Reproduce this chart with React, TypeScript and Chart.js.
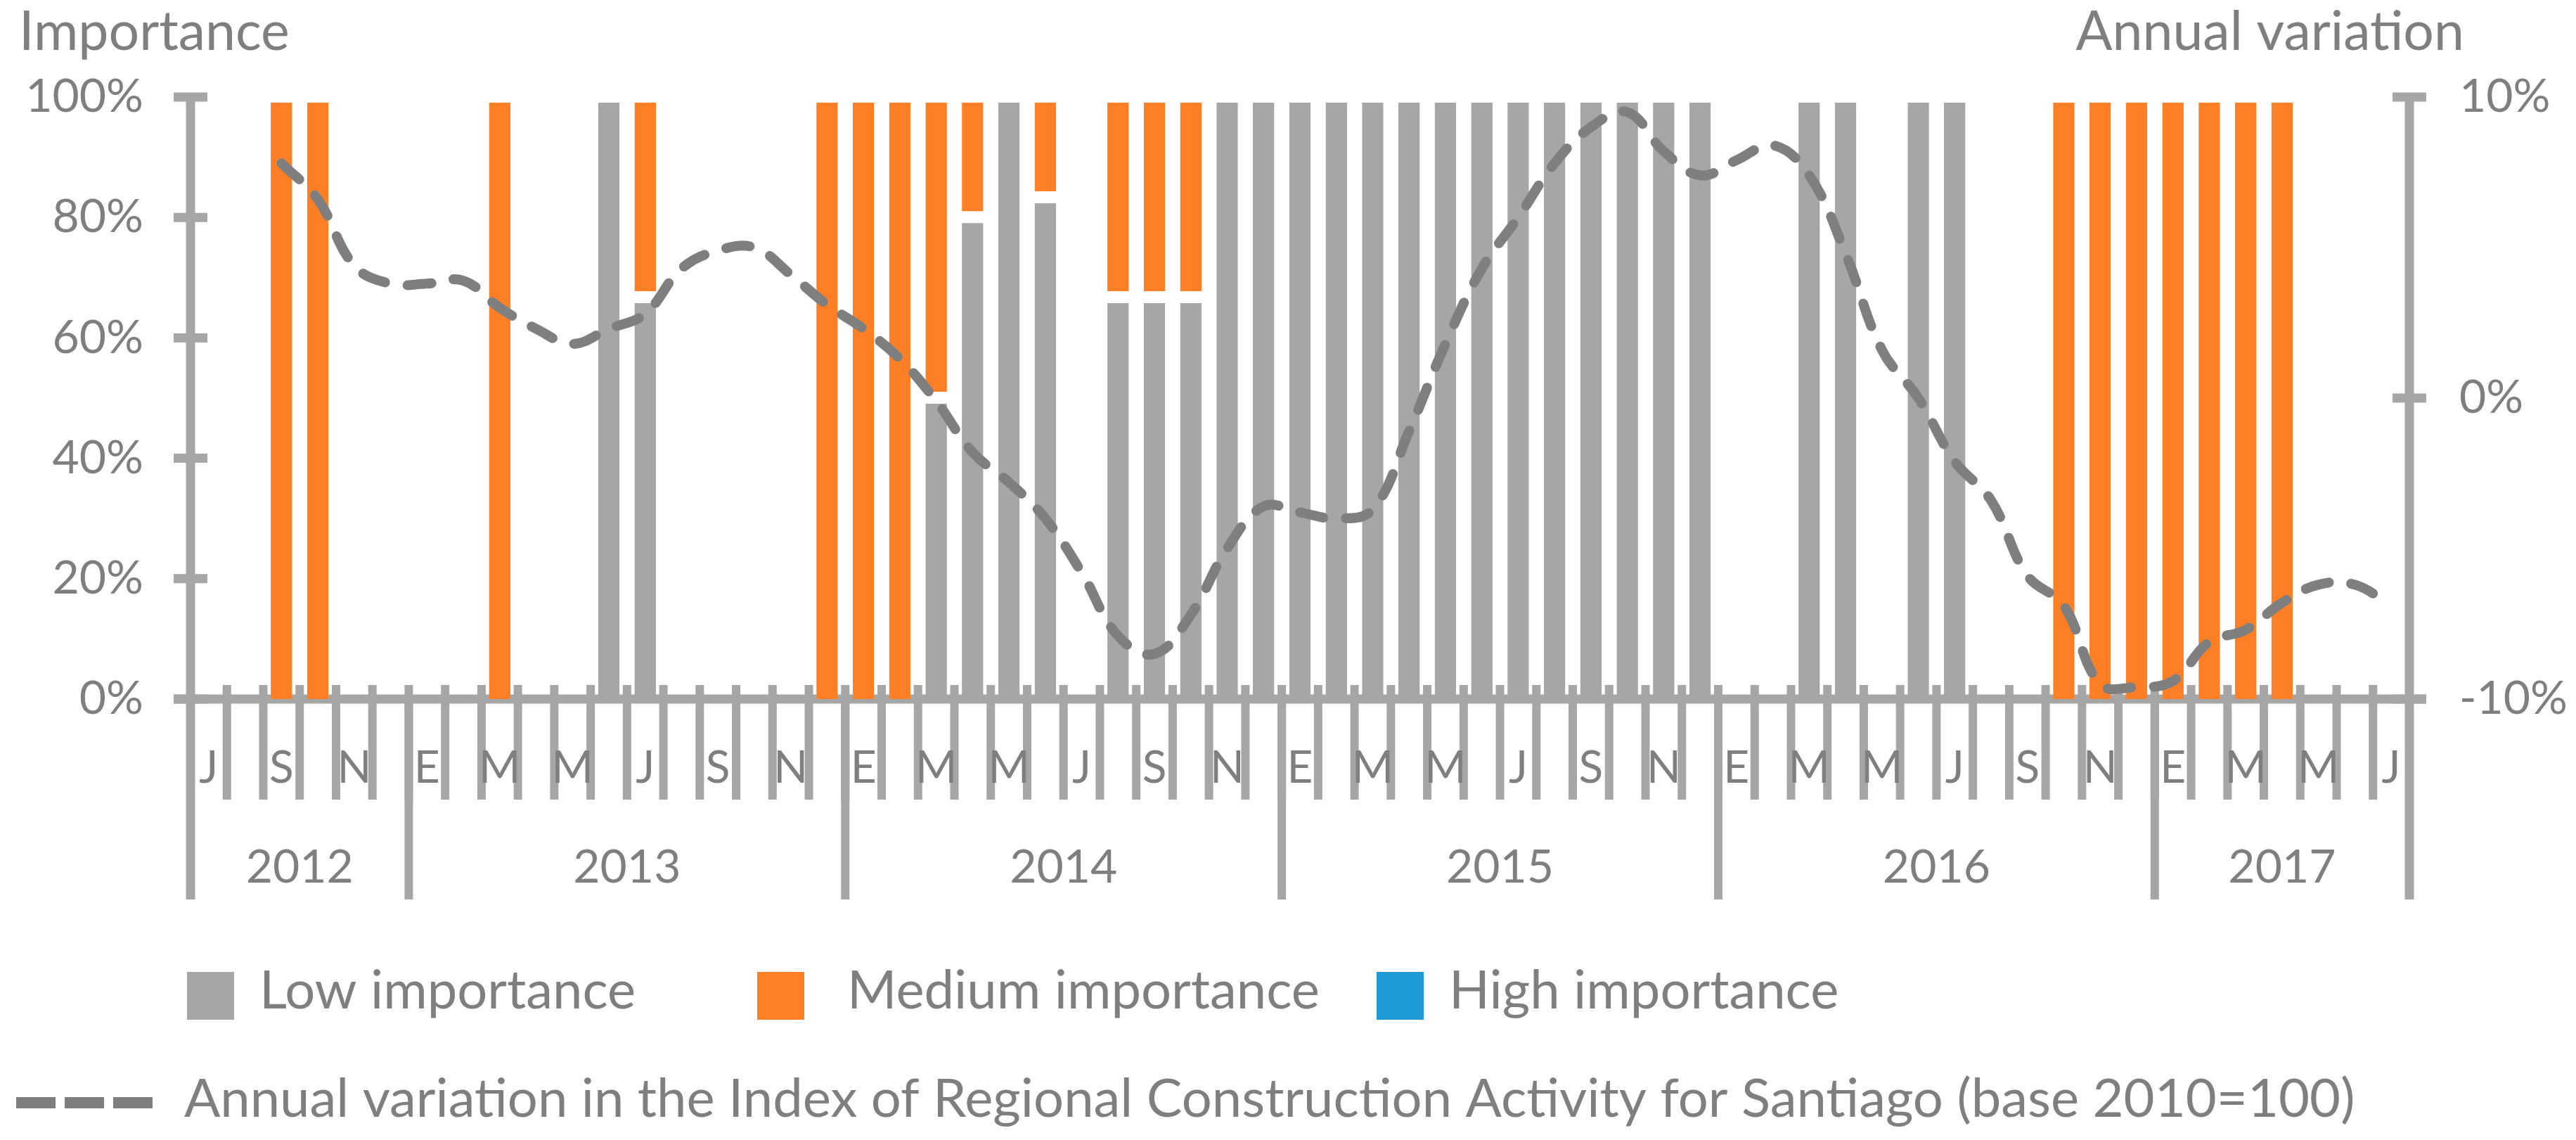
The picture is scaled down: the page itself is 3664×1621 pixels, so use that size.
import React, { useEffect, useRef } from "react";
import { Chart, registerables } from "chart.js";

Chart.register(...registerables);

// month initials (Spanish), Jul 2012 .. Jul 2017
const months = [
  "J", "A", "S", "O", "N", "D",
  "E", "F", "M", "A", "M", "J", "J", "A", "S", "O", "N", "D",
  "E", "F", "M", "A", "M", "J", "J", "A", "S", "O", "N", "D",
  "E", "F", "M", "A", "M", "J", "J", "A", "S", "O", "N", "D",
  "E", "F", "M", "A", "M", "J", "J", "A", "S", "O", "N", "D",
  "E", "F", "M", "A", "M", "J", "J",
];
const years = ["2012", "2013", "2014", "2015", "2016", "2017"];
const monthsPerYear = [6, 12, 12, 12, 12, 7];

const lowImportance = [
  0, 0, 0, 0, 0, 0,
  0, 0, 0, 0, 0, 100, 66.7, 0, 0, 0, 0, 0,
  0, 0, 50, 80, 100, 83.3, 0, 66.7, 66.7, 66.7, 100, 100,
  100, 100, 100, 100, 100, 100, 100, 100, 100, 100, 100, 100,
  0, 0, 100, 100, 0, 100, 100, 0, 0, 0, 0, 0,
  0, 0, 0, 0, 0, 0, 0,
];
const mediumImportance = [
  0, 0, 100, 100, 0, 0,
  0, 0, 100, 0, 0, 0, 33.3, 0, 0, 0, 0, 100,
  100, 100, 50, 20, 0, 16.7, 0, 33.3, 33.3, 33.3, 0, 0,
  0, 0, 0, 0, 0, 0, 0, 0, 0, 0, 0, 0,
  0, 0, 0, 0, 0, 0, 0, 0, 0, 100, 100, 100,
  100, 100, 100, 100, 0, 0, 0,
];
const highImportance = [
  0, 0, 0, 0, 0, 0,
  0, 0, 0, 0, 0, 0, 0, 0, 0, 0, 0, 0,
  0, 0, 0, 0, 0, 0, 0, 0, 0, 0, 0, 0,
  0, 0, 0, 0, 0, 0, 0, 0, 0, 0, 0, 0,
  0, 0, 0, 0, 0, 0, 0, 0, 0, 0, 0, 0,
  0, 0, 0, 0, 0, 0, 0,
];
// annual variation (%), right axis
const annualVariation = [
  null, null, 7.8, 6.6, 4.4, 3.8,
  3.8, 3.9, 3.0, 2.3, 1.8, 2.3, 2.8, 4.3, 4.9, 5.0, 4.1, 3.1,
  2.3, 1.3, -0.1, -1.8, -2.8, -4.0, -5.8, -7.9, -8.5, -7.2, -5.0, -3.6,
  -3.8, -4.0, -3.7, -1.1, 1.8, 4.3, 6.0, 7.8, 9.0, 9.5, 8.2, 7.4,
  7.9, 8.4, 7.4, 4.8, 1.6, 0.0, -2.1, -3.4, -5.9, -6.9, -9.5, -9.6,
  -9.4, -8.1, -7.7, -6.8, -6.2, -6.2, -6.9,
];

const AXIS = "#A6A6A6";
const TEXT = "#7F7F7F";
const FONT = "Lato";

const excelFrame = {
  id: "excelFrame",
  beforeDatasetsDraw(chart: any) {
    const { ctx, chartArea } = chart;
    const { left, right, top, bottom } = chartArea;
    const x = chart.scales.x;
    const yl = chart.scales.y;
    const yr = chart.scales.y1;
    const seg = (x1: number, y1: number, x2: number, y2: number) => {
      ctx.beginPath();
      ctx.moveTo(x1, y1);
      ctx.lineTo(x2, y2);
      ctx.stroke();
    };
    ctx.save();
    ctx.strokeStyle = AXIS;
    ctx.lineCap = "butt";

    // value axes with cross tick marks
    ctx.lineWidth = 13;
    seg(left, top - 6, left, bottom + 285);
    seg(right, top - 6, right, bottom + 285);
    yl.ticks.forEach((t: any) => {
      const py = yl.getPixelForValue(t.value);
      seg(left - 24, py, left + 24, py);
    });
    yr.ticks.forEach((t: any) => {
      const py = yr.getPixelForValue(t.value);
      seg(right - 24, py, right + 24, py);
    });
    seg(left - 24, bottom, right + 24, bottom);

    // month boundaries and year separators
    ctx.lineWidth = 12;
    for (let k = 1; k < months.length; k++) {
      const bx = x.getPixelForValue(k - 0.5);
      seg(bx, bottom - 20, bx, bottom + 143);
    }
    let start = 0;
    monthsPerYear.forEach((n) => {
      start += n;
      if (start < months.length) {
        const bx = x.getPixelForValue(start - 0.5);
        seg(bx, bottom, bx, bottom + 285);
      }
    });

    // category labels
    ctx.fillStyle = TEXT;
    ctx.textAlign = "center";
    ctx.textBaseline = "alphabetic";
    ctx.font = `64px ${FONT}`;
    months.forEach((m, i) => {
      if (i % 2 === 0) ctx.fillText(m, x.getPixelForValue(i), bottom + 119);
    });
    ctx.font = `66px ${FONT}`;
    start = 0;
    years.forEach((yLabel, j) => {
      const end = start + monthsPerYear[j];
      const cx = (x.getPixelForValue(start - 0.5) + x.getPixelForValue(end - 0.5)) / 2;
      ctx.fillText(yLabel, cx, bottom + 261);
      start = end;
    });
    ctx.restore();
  },
  afterDraw(chart: any) {
    const { ctx } = chart;
    const ds = chart.data.datasets;
    ctx.save();
    ctx.fillStyle = TEXT;
    ctx.textBaseline = "alphabetic";
    ctx.font = `77px ${FONT}`;
    ctx.textAlign = "left";
    ctx.fillText("Importance", 27, 71);
    ctx.textAlign = "right";
    ctx.fillText("Annual variation", 3505, 71);

    // legend, row 1
    ctx.font = `76px ${FONT}`;
    ctx.textAlign = "left";
    const items = [
      { d: 0, box: 266, text: 369 },
      { d: 1, box: 1077, text: 1205 },
      { d: 2, box: 1958, text: 2061 },
    ];
    items.forEach((it) => {
      ctx.fillStyle = ds[it.d].backgroundColor;
      ctx.fillRect(it.box, 1382, 67, 68);
      ctx.fillStyle = TEXT;
      ctx.fillText(ds[it.d].label, it.text, 1434);
    });

    // legend, row 2
    ctx.strokeStyle = ds[3].borderColor;
    ctx.lineWidth = 16;
    ctx.lineCap = "butt";
    ctx.setLineDash([56, 13]);
    ctx.beginPath();
    ctx.moveTo(23, 1568);
    ctx.lineTo(219, 1568);
    ctx.stroke();
    ctx.setLineDash([]);
    ctx.fillStyle = TEXT;
    ctx.fillText(ds[3].label, 262, 1588);
    ctx.restore();
  },
};

const App: React.FC = () => {
  const canvasRef = useRef<HTMLCanvasElement>(null);

  useEffect(() => {
    if (!canvasRef.current) return;
    const noBottomOnBase = (c: any) => ({
      top: 8,
      bottom: (lowImportance[c.dataIndex] ?? 0) > 0 ? 9 : 0,
      left: 0,
      right: 0,
    });

    const chart = new Chart(canvasRef.current, {
      type: "bar",
      data: {
        labels: months,
        datasets: [
          {
            type: "bar",
            label: "Low importance",
            data: lowImportance,
            backgroundColor: "#A6A6A6",
            borderColor: "#FFFFFF",
            borderWidth: { top: 8, bottom: 0, left: 0, right: 0 },
            borderSkipped: false,
            barPercentage: 0.59,
            categoryPercentage: 1,
            order: 1,
          },
          {
            type: "bar",
            label: "Medium importance",
            data: mediumImportance,
            backgroundColor: "#FF7F27",
            borderColor: "#FFFFFF",
            borderWidth: noBottomOnBase,
            borderSkipped: false,
            barPercentage: 0.59,
            categoryPercentage: 1,
            order: 1,
          },
          {
            type: "bar",
            label: "High importance",
            data: highImportance,
            backgroundColor: "#1F9BD7",
            borderColor: "#FFFFFF",
            borderWidth: noBottomOnBase,
            borderSkipped: false,
            barPercentage: 0.59,
            categoryPercentage: 1,
            order: 1,
          },
          {
            type: "line",
            label:
              "Annual variation in the Index of Regional Construction Activity for Santiago (base 2010=100)",
            data: annualVariation,
            yAxisID: "y1",
            borderColor: "#7F7F7F",
            borderWidth: 14,
            borderDash: [34, 32],
            borderCapStyle: "round",
            borderJoinStyle: "round",
            tension: 0.4,
            pointRadius: 0,
            fill: false,
            order: 0,
          },
        ] as any,
      },
      options: {
        responsive: true,
        maintainAspectRatio: false,
        animation: false,
        events: [],
        layout: { padding: { top: 138, bottom: 627, left: 0, right: 0 } },
        plugins: {
          legend: { display: false },
          tooltip: { enabled: false },
        },
        scales: {
          x: {
            type: "category",
            display: false,
            stacked: true,
            offset: true,
          },
          y: {
            position: "left",
            stacked: true,
            min: 0,
            max: 100,
            border: { display: false },
            grid: { display: false, drawTicks: false },
            ticks: {
              stepSize: 20,
              padding: 67,
              color: TEXT,
              font: { family: FONT, size: 66 },
              callback: (v: any) => `${v}%`,
            },
            afterFit: (s: any) => {
              s.width = 271;
            },
          },
          y1: {
            position: "right",
            min: -10,
            max: 10,
            border: { display: false },
            grid: { display: false, drawTicks: false },
            ticks: {
              stepSize: 10,
              padding: 71,
              color: TEXT,
              font: { family: FONT, size: 66 },
              callback: (v: any) => `${v}%`,
            },
            afterFit: (s: any) => {
              s.width = 237;
            },
          },
        },
      },
      plugins: [excelFrame],
    });

    return () => {
      chart.destroy();
    };
  }, []);

  return (
    <div style={{ position: "absolute", left: 0, top: 0, width: 3664, height: 1621 }}>
      <canvas ref={canvasRef} />
    </div>
  );
};

export default App;
